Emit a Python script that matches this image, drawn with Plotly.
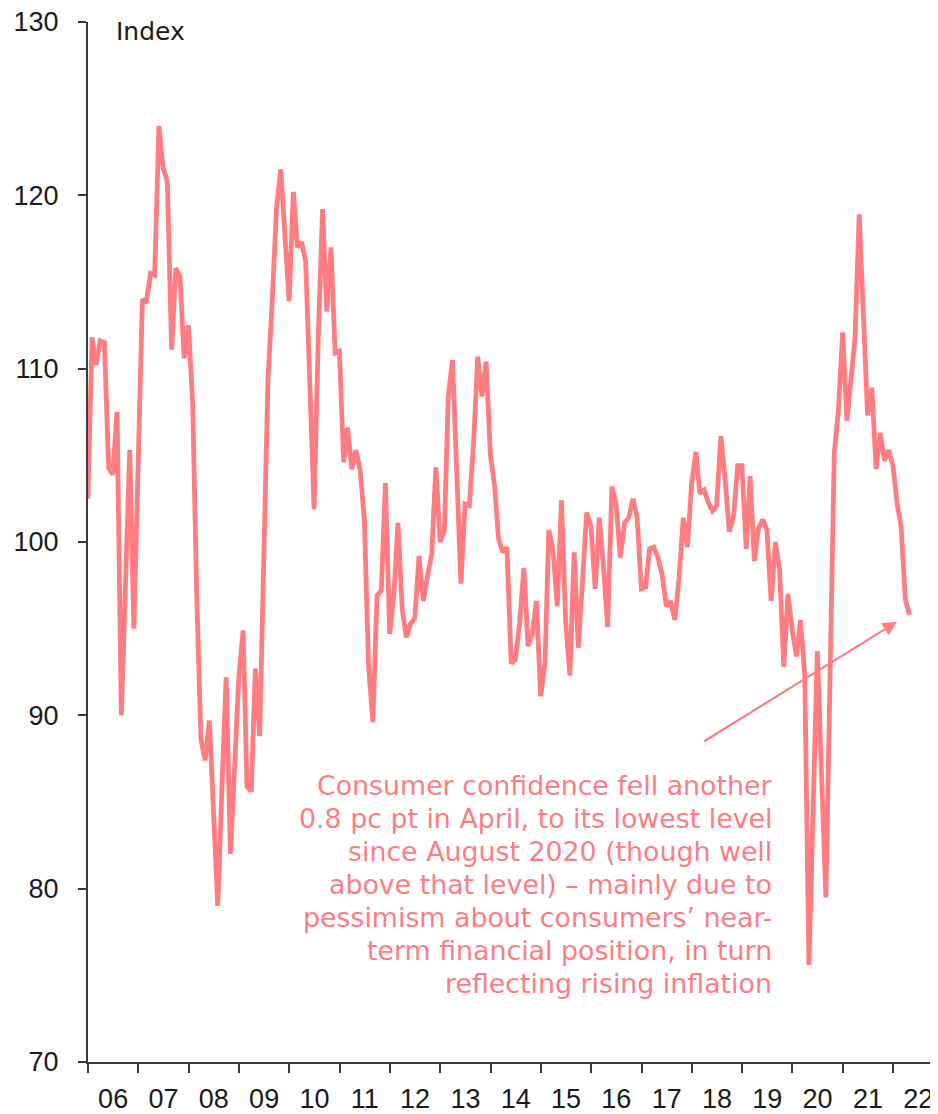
import pandas as pd
import plotly.graph_objects as go

# Monthly index, Dec 2005 .. Apr 2022 (month-end)
start_month = "2005-12-31"
values = [
    102.5,
    111.8, 110.2, 111.6, 111.5, 104.3, 103.9, 107.5, 90.0, 98.0, 105.3, 95.0, 106.0,   # 2006
    114.0, 113.8, 115.5, 115.4, 124.0, 121.6, 120.8, 111.1, 115.8, 115.3, 110.6, 112.5, # 2007
    108.0, 97.0, 88.6, 87.4, 89.7, 84.5, 79.0, 86.0, 92.2, 82.0, 87.0, 92.2,           # 2008
    94.9, 85.9, 85.6, 92.7, 88.8, 100.0, 109.5, 114.0, 119.2, 121.5, 118.0, 113.9,     # 2009
    120.2, 117.0, 117.3, 116.2, 109.0, 101.9, 112.0, 119.2, 113.3, 117.0, 110.9, 111.0, # 2010
    104.6, 106.6, 104.2, 105.3, 104.1, 101.3, 92.8, 89.6, 96.9, 97.2, 103.4, 94.7,     # 2011
    97.0, 101.1, 96.1, 94.5, 95.3, 95.6, 99.2, 96.6, 98.0, 99.3, 104.3, 100.0,         # 2012
    100.7, 108.4, 110.5, 104.0, 97.6, 102.2, 102.1, 105.7, 110.7, 108.4, 110.4, 105.0, # 2013
    103.2, 100.2, 99.4, 99.7, 93.0, 93.2, 95.3, 98.5, 94.0, 94.7, 96.6, 91.1,          # 2014
    93.0, 100.7, 99.5, 96.3, 102.4, 95.5, 92.3, 99.4, 93.9, 97.8, 101.7, 100.9,        # 2015
    97.3, 101.4, 98.6, 95.1, 103.2, 102.2, 99.1, 101.1, 101.4, 102.5, 101.4, 97.3,     # 2016
    97.4, 99.6, 99.7, 99.1, 98.1, 96.3, 96.6, 95.5, 97.9, 101.4, 99.7, 103.4,          # 2017
    105.2, 102.8, 103.0, 102.3, 101.8, 102.1, 106.1, 103.6, 100.6, 101.5, 104.4, 104.4, # 2018
    99.6, 103.8, 98.9, 100.8, 101.3, 100.7, 96.6, 100.0, 98.4, 92.8, 97.0, 94.9,       # 2019
    93.4, 95.5, 92.3, 75.6, 85.0, 93.7, 86.5, 79.5, 92.0, 105.1, 107.6, 112.1,         # 2020
    107.0, 109.1, 111.8, 118.9, 113.0, 107.3, 108.9, 104.2, 106.3, 104.7, 105.3, 104.4, # 2021
    102.2, 100.9, 96.7, 95.8,                                                          # 2022
]
dates = pd.date_range(start_month, periods=len(values), freq="ME")

note_lines = [
    "Consumer confidence fell another",
    "0.8 pc pt in April, to its lowest level",
    "since August 2020 (though well",
    "above that level) \u2013 mainly due to",
    "pessimism about consumers\u2019 near-",
    "term financial position, in turn",
    "reflecting rising inflation",
]

pink = "#FF7C80"
axis_col = "#3a3a3a"
tick_font = "'Liberation Sans', Arial, sans-serif"
text_font = "'DejaVu Sans', sans-serif"

# The page body adds an 8 px offset; size the figure so the plot area lands
# at x 88..938, y 22..1062 of the 938x1114 window.
OFF = 8
W, H = 938 - OFF, 1114 - OFF
L, R, T, B = 88 - OFF, 0, 22 - OFF, 52
PW, PH = W - L - R, H - T - B


def px_x(x):
    return (x - 88) / PW


def px_y(y):
    return 1 - (y - 22) / PH


fig = go.Figure()
fig.add_trace(go.Scatter(x=dates, y=values, mode="lines",
                         line=dict(color=pink, width=4.8), hoverinfo="skip"))

fig.update_layout(
    width=W, height=H,
    margin=dict(l=L, r=R, t=T, b=B),
    paper_bgcolor="white", plot_bgcolor="white",
    showlegend=False,
    font=dict(family=tick_font, size=27, color="#1a1a1a"),
)
fig.update_xaxes(
    type="date", range=["2006-01-01", "2022-11-23"], automargin=False,
    tick0="2006-01-01", dtick="M12", tickformat="%y", ticklabelmode="period",
    ticks="outside", ticklen=9, tickwidth=1.5, tickcolor=axis_col,
    showline=True, linecolor=axis_col, linewidth=2, showgrid=False, zeroline=False,
    ticklabelstandoff=3, ticklabeloverflow="allow",
    tickfont=dict(family=tick_font, size=27, color="#1a1a1a"),
)
fig.update_yaxes(
    range=[70, 130], dtick=10, automargin=False,
    ticks="outside", ticklen=8, tickwidth=1.5, tickcolor=axis_col,
    showline=True, linecolor=axis_col, linewidth=2, showgrid=False, zeroline=False,
    ticklabelstandoff=14, ticklabeloverflow="allow",
    tickfont=dict(family=tick_font, size=27, color="#1a1a1a"),
)

fig.add_annotation(xref="paper", yref="paper", x=px_x(114), y=px_y(32),
                   text="Index", showarrow=False, xanchor="left", yanchor="middle",
                   font=dict(family=text_font, size=25, color="#1a1a1a"))

for i, line in enumerate(note_lines):
    fig.add_annotation(xref="paper", yref="paper", x=px_x(774), y=px_y(785.5 + 33 * i),
                       text=line, showarrow=False, xanchor="right", yanchor="middle",
                       align="right", font=dict(family=text_font, size=26.8, color=pink))

fig.add_annotation(x="2022-01-30", y=95.4, ax="2018-03-21", ay=88.45,
                   xref="x", yref="y", axref="x", ayref="y",
                   text="", showarrow=True, arrowhead=2, arrowsize=1.3, arrowwidth=2.2,
                   arrowcolor=pink)

fig.write_html("out.html")
